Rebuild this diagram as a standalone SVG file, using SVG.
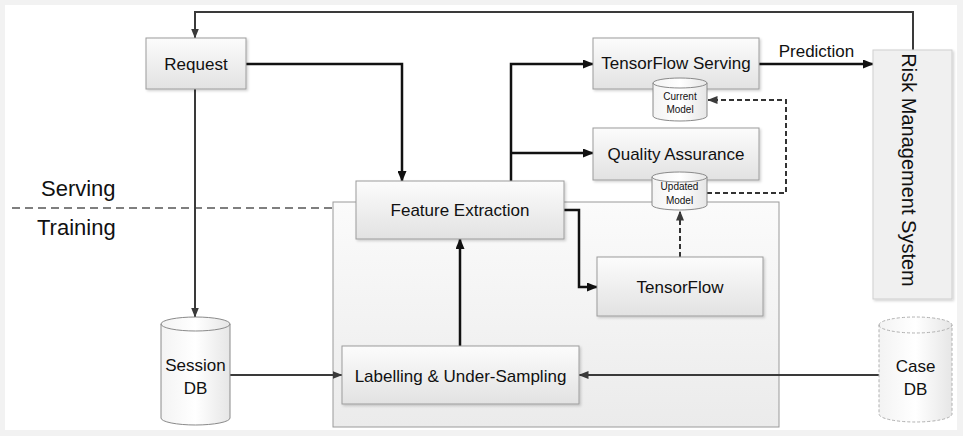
<svg xmlns="http://www.w3.org/2000/svg" width="963" height="436" viewBox="0 0 963 436">
<defs>
<linearGradient id="boxg" x1="0" y1="0" x2="0" y2="1">
<stop offset="0" stop-color="#fcfcfc"/>
<stop offset="1" stop-color="#e2e2e2"/>
</linearGradient>
<linearGradient id="regg" x1="0" y1="0" x2="0" y2="1">
<stop offset="0" stop-color="#fbfbfb"/>
<stop offset="1" stop-color="#ebebeb"/>
</linearGradient>
<linearGradient id="cylg" x1="0" y1="0" x2="1" y2="0">
<stop offset="0" stop-color="#f3f3f3"/>
<stop offset="0.5" stop-color="#ffffff"/>
<stop offset="1" stop-color="#e6e6e6"/>
</linearGradient>
<filter id="sh" x="-10%" y="-10%" width="130%" height="130%">
<feDropShadow dx="1.5" dy="1.5" stdDeviation="1" flood-color="#000" flood-opacity="0.18"/>
</filter>
<marker id="ah" markerWidth="11" markerHeight="9" refX="10" refY="4.5" orient="auto" markerUnits="userSpaceOnUse">
<path d="M0,0 L11,4.5 L0,9 Z" fill="#111"/>
</marker>
<marker id="ahg" markerWidth="10" markerHeight="8" refX="9.5" refY="4" orient="auto" markerUnits="userSpaceOnUse">
<path d="M0,0 L10,4 L0,8 Z" fill="#3a3a3a"/>
</marker>
</defs>
<style>
.box{fill:url(#boxg);stroke:#9c9c9c;stroke-width:1;filter:url(#sh)}
.cyl{fill:url(#cylg);stroke:#8a8a8a;stroke-width:1}
.lbl{font-family:"Liberation Sans",Arial,sans-serif;font-size:17px;fill:#111;text-anchor:middle}
.sm{font-family:"Liberation Sans",Arial,sans-serif;font-size:10px;fill:#111;text-anchor:middle}
.big{font-family:"Liberation Sans",Arial,sans-serif;font-size:22px;fill:#111}
.thick{fill:none;stroke:#111;stroke-width:2.5;marker-end:url(#ah)}
.thin{fill:none;stroke:#3a3a3a;stroke-width:2;marker-end:url(#ahg)}
.dash{fill:none;stroke:#333;stroke-width:2;stroke-dasharray:5,3;marker-end:url(#ahg)}
</style>
<rect x="0" y="0" width="963" height="436" fill="#f2f2f2"/>
<rect x="5" y="5" width="952" height="425" fill="#ffffff"/>

<g id="serving-training-labels">
<text class="big" x="41" y="196">Serving</text>
<text class="big" x="37" y="235">Training</text>
<path d="M12,208 H333" stroke="#555" stroke-width="1.5" stroke-dasharray="8,5" fill="none"/>
</g>

<g id="training-region">
<rect x="333" y="202" width="446" height="225" fill="url(#regg)" stroke="#9a9a9a" stroke-width="1"/>
</g>

<g id="connectors">
<path class="thin" d="M913,50 V12 H195 V38"/>
<path class="thick" d="M246,64 H402 V181"/>
<path class="thin" d="M195,89 V317"/>
<path class="thin" d="M230,375 H342"/>
<path class="thin" d="M879,375 H579"/>
<path class="thick" d="M460,346 V239"/>
<path class="thick" d="M511,181 V64 H593"/>
<path class="thick" d="M511,153 H593"/>
<path class="thick" d="M564,210 H579 V287 H597"/>
<path class="dash" d="M680,257 V211"/>
<path class="dash" d="M707,193 H786 V100 H708"/>
<path class="thick" d="M759,64 H873"/>
<text class="lbl" x="816.5" y="57">Prediction</text>
</g>

<g id="request">
<rect class="box" x="146" y="38" width="100" height="51"/>
<text class="lbl" x="196" y="70">Request</text>
</g>

<g id="tensorflow-serving">
<rect class="box" x="593" y="38" width="166" height="51"/>
<text class="lbl" x="676" y="69">TensorFlow Serving</text>
</g>

<g id="quality-assurance">
<rect class="box" x="593" y="128" width="166" height="52"/>
<text class="lbl" x="676" y="160">Quality Assurance</text>
</g>

<g id="current-model">
<path class="cyl" d="M653,83 A27,5 0 0 1 707,83 V116 A27,5 0 0 1 653,116 Z"/>
<path d="M653,83 A27,5 0 0 0 707,83" fill="none" stroke="#8a8a8a" stroke-width="1"/>
<text class="sm" x="680" y="100">Current</text>
<text class="sm" x="680" y="113">Model</text>
</g>

<g id="feature-extraction">
<rect class="box" x="356" y="181" width="208" height="58"/>
<text class="lbl" x="460" y="216">Feature Extraction</text>
</g>

<g id="updated-model">
<path class="cyl" d="M652,177 A27.5,5 0 0 1 707,177 V205 A27.5,5 0 0 1 652,205 Z"/>
<path d="M652,177 A27.5,5 0 0 0 707,177" fill="none" stroke="#8a8a8a" stroke-width="1"/>
<text class="sm" x="679.5" y="190">Updated</text>
<text class="sm" x="679.5" y="204">Model</text>
</g>

<g id="tensorflow">
<rect class="box" x="597" y="257" width="166" height="59"/>
<text class="lbl" x="680" y="293">TensorFlow</text>
</g>

<g id="labelling">
<rect class="box" x="342" y="346" width="237" height="58"/>
<text class="lbl" x="460.5" y="382">Labelling &amp; Under-Sampling</text>
</g>

<g id="session-db">
<path class="cyl" d="M161,324 A34.5,7 0 0 1 230,324 V418 A34.5,7 0 0 1 161,418 Z"/>
<path d="M161,324 A34.5,7 0 0 0 230,324" fill="none" stroke="#8a8a8a" stroke-width="1"/>
<text class="lbl" x="195.5" y="371">Session</text>
<text class="lbl" x="195.5" y="394">DB</text>
</g>

<g id="case-db">
<path d="M879,325 A36.5,8 0 0 1 952,325 V414 A36.5,8 0 0 1 879,414 Z" fill="url(#cylg)" stroke="#b0b0b0" stroke-width="1" stroke-dasharray="3,2"/>
<path d="M879,325 A36.5,8 0 0 0 952,325" fill="none" stroke="#b0b0b0" stroke-width="1" stroke-dasharray="3,2"/>
<text class="lbl" x="915.5" y="372">Case</text>
<text class="lbl" x="915.5" y="395">DB</text>
</g>

<g id="risk-management-system">
<rect x="873" y="50" width="79" height="249" fill="#f0f0f0" stroke="#cfcfcf" stroke-width="1" filter="url(#sh)"/>
<text transform="translate(902,170) rotate(90)" x="0" y="0" font-family="Liberation Sans, Arial, sans-serif" font-size="20" fill="#111" text-anchor="middle">Risk Management System</text>
</g>
</svg>
